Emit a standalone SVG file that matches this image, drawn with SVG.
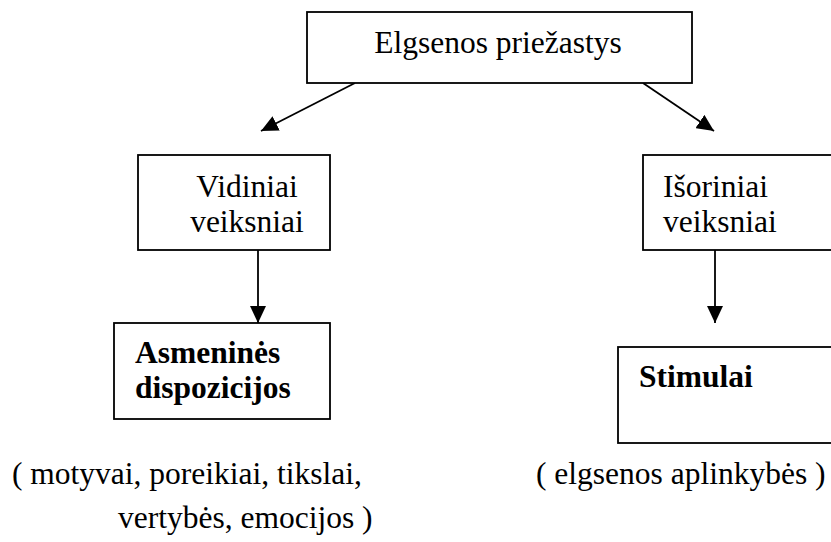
<svg xmlns="http://www.w3.org/2000/svg" width="831" height="542" viewBox="0 0 831 542">
<style>
.box{fill:#fff;stroke:#000;stroke-width:1.8}
.t{font-family:"Liberation Serif","Times New Roman",serif;font-size:31.5px;fill:#000}
.b{font-weight:bold}
.c{stroke:#000;stroke-width:1.8;fill:none}
</style>
<defs>
<marker id="ah" viewBox="0 0 17 16" refX="17" refY="8" markerWidth="17" markerHeight="16" orient="auto" markerUnits="userSpaceOnUse">
<path d="M0,0 L17,8 L0,16 z" fill="#000"/>
</marker>
</defs>
<rect width="831" height="542" fill="#fff"/>
<g id="connectors">
<line class="c" x1="355" y1="83" x2="261" y2="131" marker-end="url(#ah)"/>
<line class="c" x1="643" y1="83" x2="714" y2="131" marker-end="url(#ah)"/>
<line class="c" x1="258" y1="250" x2="258" y2="323" marker-end="url(#ah)"/>
<line class="c" x1="715" y1="250" x2="715" y2="323" marker-end="url(#ah)"/>
</g>
<g id="n-elgsenos">
<rect class="box" x="307" y="12" width="385" height="71"/>
<text class="t" x="498" y="53" text-anchor="middle">Elgsenos priežastys</text>
</g>
<g id="n-vidiniai">
<rect class="box" x="138" y="155" width="192" height="95"/>
<text class="t" x="247" y="197" text-anchor="middle">Vidiniai</text>
<text class="t" x="247" y="232" text-anchor="middle">veiksniai</text>
</g>
<g id="n-isoriniai">
<rect class="box" x="643" y="155" width="220" height="95"/>
<text class="t" x="663" y="197">Išoriniai</text>
<text class="t" x="663" y="232">veiksniai</text>
</g>
<g id="n-asmenines">
<rect class="box" x="114" y="323" width="216" height="96"/>
<text class="t b" x="135" y="363">Asmeninės</text>
<text class="t b" x="135" y="398">dispozicijos</text>
</g>
<g id="n-stimulai">
<rect class="box" x="618" y="347" width="240" height="96"/>
<text class="t b" x="639" y="387">Stimulai</text>
</g>
<g id="labels">
<text class="t" x="12" y="484">( motyvai, poreikiai, tikslai,</text>
<text class="t" x="118" y="528">vertybės, emocijos )</text>
<text class="t" x="536" y="484">( elgsenos aplinkybės )</text>
</g>
</svg>
